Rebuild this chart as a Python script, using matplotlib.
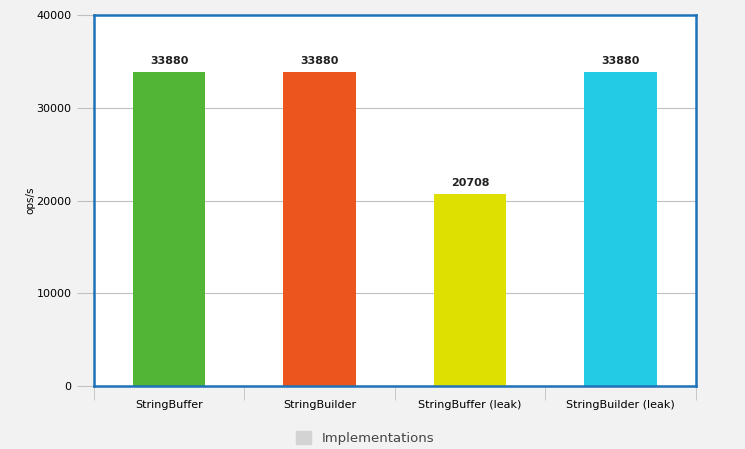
import matplotlib.pyplot as plt
import matplotlib.patches as mpatches
import numpy as np

# Data
categories = ['StringBuffer', 'StringBuilder', 'StringBuffer (leak)', 'StringBuilder (leak)']
values = [33880, 33880, 20708, 33880]
colors = ['#52b535', '#ec561e', '#dde000', '#24cbe5']

fig = plt.figure(figsize=(7.45, 4.49), dpi=100, facecolor='#f2f2f2')
ax = fig.add_axes([0.126, 0.1403, 0.808, 0.8263])
ax.set_facecolor('white')

x = np.arange(len(categories))
bars = ax.bar(x, values, width=0.48, color=colors, zorder=3)

for b, v in zip(bars, values):
    ax.text(b.get_x() + b.get_width() / 2, v + 600, str(v),
            ha='center', va='bottom', fontsize=8, fontweight='bold', color='#222222')

ax.set_xlim(-0.5, len(categories) - 0.5)
ax.set_ylim(0, 40000)
ax.set_yticks([0, 10000, 20000, 30000, 40000])
ax.yaxis.grid(True, color='#c0c0c0', linewidth=0.8, zorder=0)
ax.tick_params(axis='y', length=12, color='#c0c0c0', labelsize=8, pad=4)

ax.set_xticks(x)
ax.set_xticklabels(categories, fontsize=8)
ax.tick_params(axis='x', length=0, pad=10)
ax.set_xticks(np.arange(-0.5, len(categories)), minor=True)
ax.tick_params(axis='x', which='minor', length=10, color='#c0c0c0')

for s in ax.spines.values():
    s.set_color('#1f72b8')
    s.set_linewidth(1.8)
    s.set_zorder(4)

ax.set_ylabel('ops/s', fontsize=7.5, labelpad=1)

patch = mpatches.Patch(color='#d3d3d3', label='Implementations')
fig.legend(handles=[patch], loc='center', bbox_to_anchor=(0.49, 0.025),
           frameon=False, fontsize=9.5, handlelength=1.2, handleheight=1.2,
           labelcolor='#444444')

fig.savefig('out.png', dpi=100, facecolor=fig.get_facecolor())
